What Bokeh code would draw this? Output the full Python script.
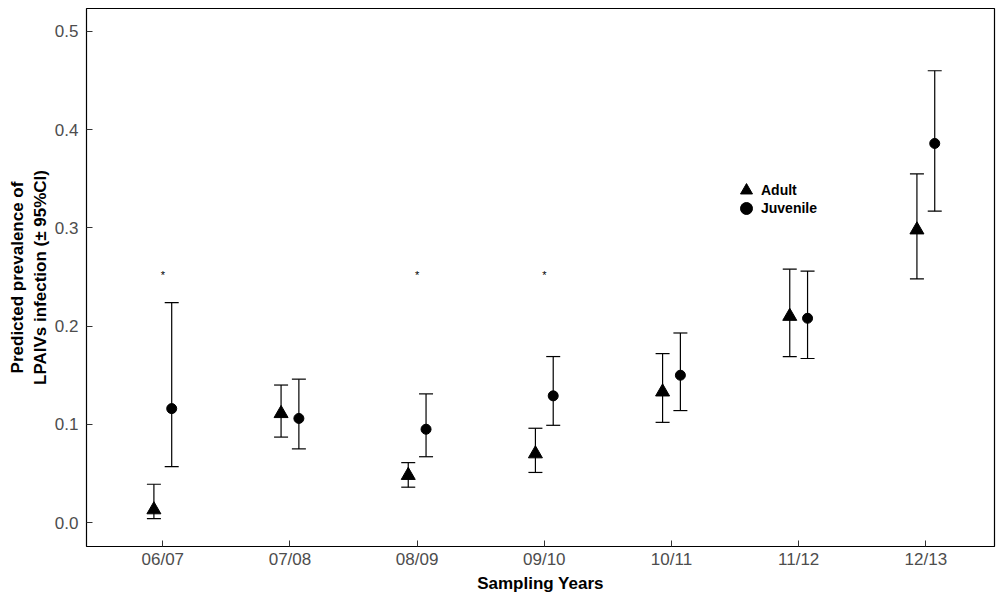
from bokeh.plotting import figure
from bokeh.models import (ColumnDataSource, Whisker, TeeHead, FixedTicker, Range1d,
                          Legend, LegendItem)
from bokeh.core.properties import value
from bokeh.embed import file_html
from bokeh.resources import INLINE

years = ["06/07", "07/08", "08/09", "09/10", "10/11", "11/12", "12/13"]
adult = [0.013, 0.111, 0.048, 0.070, 0.133, 0.210, 0.298]
adult_lo = [0.004, 0.087, 0.036, 0.051, 0.102, 0.169, 0.248]
adult_hi = [0.039, 0.140, 0.061, 0.096, 0.172, 0.258, 0.355]
juv = [0.116, 0.106, 0.095, 0.129, 0.150, 0.208, 0.386]
juv_lo = [0.057, 0.075, 0.067, 0.099, 0.114, 0.167, 0.317]
juv_hi = [0.224, 0.146, 0.131, 0.169, 0.193, 0.256, 0.460]
star_years = ["06/07", "08/09", "09/10"]
star_y = 0.2525

dodge = 0.07
idx = list(range(1, len(years) + 1))
src_a = ColumnDataSource(dict(x=[i - dodge for i in idx], y=adult, lo=adult_lo, hi=adult_hi))
src_j = ColumnDataSource(dict(x=[i + dodge for i in idx], y=juv, lo=juv_lo, hi=juv_hi))
src_s = ColumnDataSource(dict(x=[years.index(s) + 1 for s in star_years],
                              y=[star_y] * len(star_years), t=["*"] * len(star_years)))

p = figure(width=999, height=596, output_backend="svg", toolbar_location=None,
           x_range=Range1d(0.4, 7.54), y_range=Range1d(-0.0244, 0.5234),
           min_border_left=86, min_border_right=5, min_border_top=8, min_border_bottom=50)
p.xgrid.visible = False
p.ygrid.visible = False
p.outline_line_color = "black"
p.outline_line_width = 1.2

FONT = "Liberation Sans"
for ax in (p.xaxis[0], p.yaxis[0]):
    ax.axis_line_color = None
    ax.major_tick_line_color = "#333333"
    ax.major_tick_out = 0
    ax.major_tick_in = 6
    ax.minor_tick_line_color = None
    ax.major_label_text_font = FONT
    ax.major_label_text_font_size = "17px"
    ax.major_label_text_color = "#4d4d4d"
    ax.axis_label_text_font = FONT
    ax.axis_label_text_font_size = "17px"
    ax.axis_label_text_font_style = "bold"
    ax.axis_label_text_color = "black"

p.xaxis.ticker = FixedTicker(ticks=idx)
p.xaxis.major_label_overrides = {i: y for i, y in zip(idx, years)}
p.xaxis.axis_label = "Sampling Years"
p.xaxis.major_label_standoff = 3
p.xaxis.axis_label_standoff = 2
p.yaxis.ticker = FixedTicker(ticks=[0.0, 0.1, 0.2, 0.3, 0.4, 0.5])
p.yaxis.major_label_overrides = {0.0: "0.0", 0.1: "0.1", 0.2: "0.2", 0.3: "0.3", 0.4: "0.4", 0.5: "0.5"}
p.yaxis.axis_label = "Predicted prevalence of\nLPAIVs infection (± 95%CI)"
p.yaxis.major_label_standoff = 8
p.yaxis.axis_label_standoff = 2

for src in (src_a, src_j):
    w = Whisker(source=src, base="x", upper="hi", lower="lo", dimension="height",
                line_color="black", line_width=1.2,
                upper_head=TeeHead(size=14, line_color="black", line_width=1.2),
                lower_head=TeeHead(size=14, line_color="black", line_width=1.2))
    w.level = "underlay"
    p.add_layout(w)

ra = p.scatter("x", "y", source=src_a, marker="triangle", size=14,
               fill_color="black", line_color="black")
rj = p.scatter("x", "y", source=src_j, marker="circle", size=10,
               fill_color="black", line_color="black")

p.text("x", "y", text="t", source=src_s, text_font=value(FONT), text_font_size="11px",
       text_align="center", text_baseline="middle", text_color="black")

leg_style = dict(border_line_color=None, background_fill_alpha=0, padding=0, margin=0,
                 spacing=0, glyph_width=30, glyph_height=30, label_height=18,
                 label_standoff=0, label_text_font=FONT, label_text_font_size="14px",
                 label_text_font_style="bold", label_text_color="black")
leg_a = Legend(items=[LegendItem(label="Adult", renderers=[ra])],
               location=(645, 341), **leg_style)
leg_j = Legend(items=[LegendItem(label="Juvenile", renderers=[rj])],
               location=(645, 323), **leg_style)
p.add_layout(leg_a)
p.add_layout(leg_j)

open("out.html", "w").write(file_html(p, INLINE))
